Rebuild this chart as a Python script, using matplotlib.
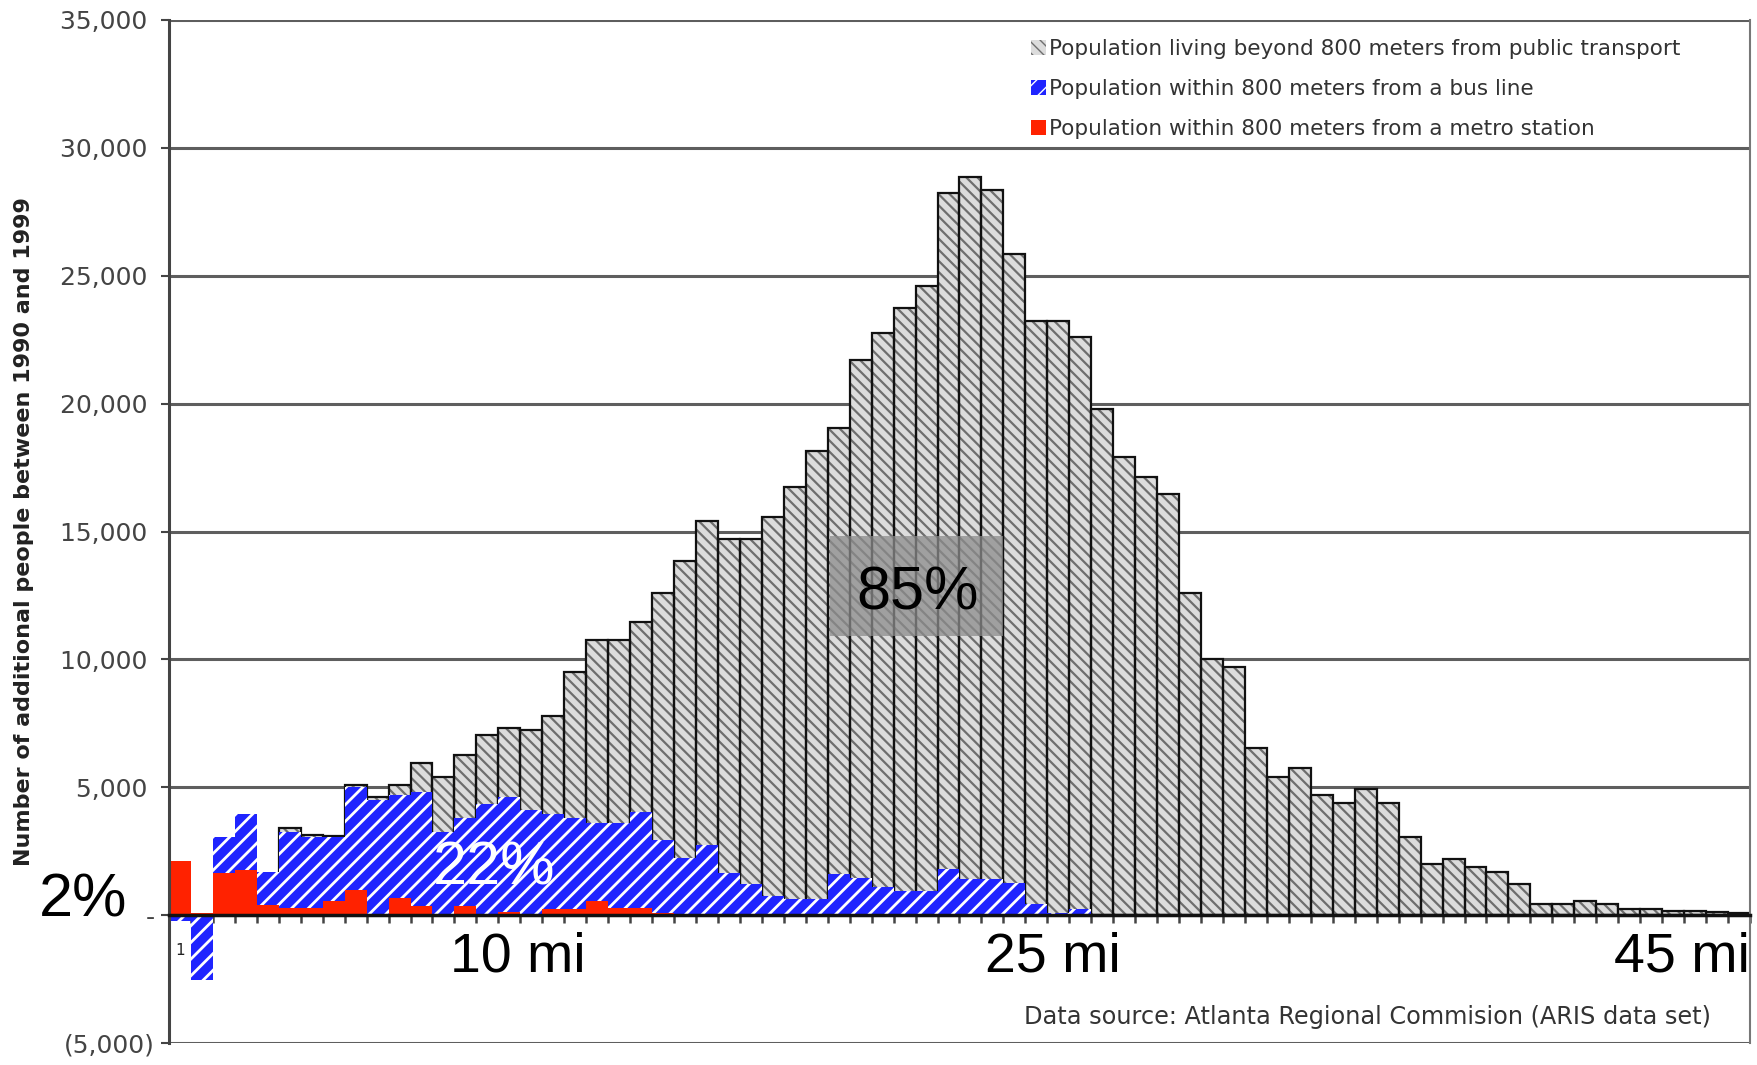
import numpy as np
import matplotlib
matplotlib.use("Agg")
import matplotlib.pyplot as plt
from matplotlib.ticker import FixedLocator
from matplotlib.patches import Rectangle

# ---------------- data ----------------
beyond_800m = [0, 0, 0, 0, 0, 3400, 3150, 3100, 5100, 4600,
               5100, 5950, 5400, 6250, 7050, 7300, 7250, 7800, 9500, 10750,
               10750, 11450, 12600, 13850, 15400, 14700, 14700, 15550, 16750, 18150,
               19050, 21700, 22750, 23750, 24600, 28250, 28850, 28350, 25850, 23250,
               23250, 22600, 19800, 17900, 17150, 16450, 12600, 10000, 9700, 6550,
               5400, 5750, 4700, 4400, 4950, 4400, 3050, 2000, 2200, 1900,
               1700, 1200, 450, 450, 550, 450, 250, 250, 150, 150,
               120, 100]
bus_800m = [-220, -2550, 3050, 3950, 1700, 3250, 3050, 3050, 5000, 4500,
            4700, 4800, 3250, 3800, 4350, 4600, 4100, 3950, 3800, 3600,
            3600, 4050, 2950, 2250, 2750, 1650, 1200, 750, 650, 650,
            1600, 1450, 1100, 950, 950, 1800, 1400, 1400, 1250, 450,
            100, 250, 0, 0, 0, 0, 0, 0, 0, 0,
            0, 0, 0, 0, 0, 0, 0, 0, 0, 0,
            0, 0, 0, 0, 0, 0, 0, 0, 0, 0,
            0, 0]
metro_800m = [2120, 90, 1650, 1750, 380, 280, 260, 560, 980, 0,
              670, 360, 40, 360, 40, 130, 40, 250, 250, 550,
              260, 260, 80, 0, 0, 0, 0, 0, 0, 0,
              0, 0, 0, 0, 0, 0, 0, 0, 0, 0,
              0, 0, 0, 0, 0, 0, 0, 0, 0, 0,
              0, 0, 0, 0, 0, 0, 0, 0, 0, 0,
              0, 0, 0, 0, 0, 0, 0, 0, 0, 0,
              0, 0]
series_labels = ["Population living beyond 800 meters from public transport",
                 "Population within 800 meters from a bus line",
                 "Population within 800 meters from a metro station"]
ytick_values = [-5000, 0, 5000, 10000, 15000, 20000, 25000, 30000, 35000]
ytick_labels = ["(5,000)", "-", "5,000 ", "10,000 ", "15,000 ", "20,000 ",
                "25,000 ", "30,000 ", "35,000 "]
ylabel = "Number of additional people between 1990 and 1999"
share_labels = ["2%", "22%", "85%"]
distance_labels = ["10 mi", "25 mi", "45 mi"]
source_note = "Data source: Atlanta Regional Commision (ARIS data set)"

# ---------------- figure ----------------
SMALL = ["DejaVu Sans"]
BIG = ["Liberation Sans", "DejaVu Sans"]
plt.rcParams["font.family"] = SMALL

fig = plt.figure(figsize=(17.58, 10.65), dpi=100)
ax = fig.add_axes([169 / 1758, 1 - 1043 / 1065, (1750 - 169) / 1758, (1043 - 20) / 1065])

n = len(beyond_800m)
x = np.arange(n)


def set_hlw(container, lw):
    for p in container:
        if hasattr(p, "set_hatch_linewidth"):
            p.set_hatch_linewidth(lw)


# gray bars: fill + hatch, then black outline
with plt.rc_context({"hatch.linewidth": 1.6}):
    g = ax.bar(x, beyond_800m, width=1.0, color="#dcdcdc", edgecolor="#6e6e6e",
               linewidth=0, hatch="\\\\\\", zorder=1, label=series_labels[0])
set_hlw(g, 1.6)
ax.bar(x, beyond_800m, width=1.0, fill=False, edgecolor="#111111", linewidth=1.6, zorder=1.1)

with plt.rc_context({"hatch.linewidth": 2.0}):
    b = ax.bar(x, bus_800m, width=1.0, color="#1f24ff", edgecolor="white",
               linewidth=0, hatch="//", zorder=1.2, label=series_labels[1])
set_hlw(b, 2.0)

r = ax.bar(x, metro_800m, width=1.0, color="#ff2200", linewidth=0, zorder=1.3,
           label=series_labels[2])

ax.set_xlim(-0.5, n - 0.5)
ax.set_ylim(-5000, 35000)

# axes styling
ax.set_axisbelow(True)
ax.yaxis.set_major_locator(FixedLocator(ytick_values))
ax.set_yticklabels(ytick_labels)
ax.grid(axis="y", color="#5e5e5e", linewidth=2.2)
ax.grid(axis="x", visible=False)
ax.tick_params(axis="y", direction="out", length=6, width=1.5, color="#444444",
               labelsize=18, labelcolor="#444444", pad=4)

ax.spines["bottom"].set_position(("data", 0))
ax.spines["bottom"].set_color("#111111")
ax.spines["bottom"].set_linewidth(2.5)
ax.spines["bottom"].set_zorder(3)
ax.spines["left"].set_color("#444444")
ax.spines["left"].set_linewidth(2.2)
ax.spines["top"].set_visible(False)
ax.spines["right"].set_color("#777777")
ax.spines["right"].set_linewidth(1.5)

ax.set_xticks(np.arange(-0.5, n, 1.0))
ax.set_xticklabels([])
ax.tick_params(axis="x", direction="out", length=6, width=1.8, color="#444444")

ax.set_ylabel(ylabel, fontsize=16, fontweight="bold", color="#222222")
ax.yaxis.set_label_coords((34 - 169) / 1581, 0.5)

# legend
leg = fig.legend(handles=[g, b, r], labels=series_labels, loc="upper left",
                 bbox_to_anchor=(1022 / 1758, 1 - 30 / 1065), frameon=False,
                 fontsize=15.5, handlelength=0.7, handleheight=0.7, handletextpad=0.15,
                 labelspacing=0.94, borderaxespad=0)
for t in leg.get_texts():
    t.set_color("#333333")

# annotations
ax.text(-4.4, -60, share_labels[0], fontsize=44, ha="center", va="baseline",
        color="black", clip_on=False, family=BIG)
ax.text(14.3, 1200, share_labels[1], fontsize=44, ha="center", va="baseline",
        color="white", zorder=5, family=BIG)
# translucent gray box behind the 85% label (axes-fraction placement)
ax.add_patch(Rectangle(((830 - 169) / 1581, (1043 - 636) / 1023), 173 / 1581, 100 / 1023,
                       transform=ax.transAxes, facecolor="#8c8c8c", edgecolor="none",
                       alpha=0.75, zorder=4))
ax.text(33.6, 11960, share_labels[2], fontsize=44, ha="center", va="baseline",
        color="black", zorder=5, family=BIG)
for lbl, xc in zip(distance_labels, [15.4, 39.75, 68.4]):
    ax.text(xc, -2190, lbl, fontsize=40, ha="center", va="baseline", color="black",
            family=BIG)
ax.text(0.0, -1400, "1", fontsize=11, ha="center", va="center", color="#222222")
ax.text(54.1, -4260, source_note, fontsize=17.3, ha="center", va="baseline",
        color="#333333")

fig.savefig("out.png", dpi=100)
